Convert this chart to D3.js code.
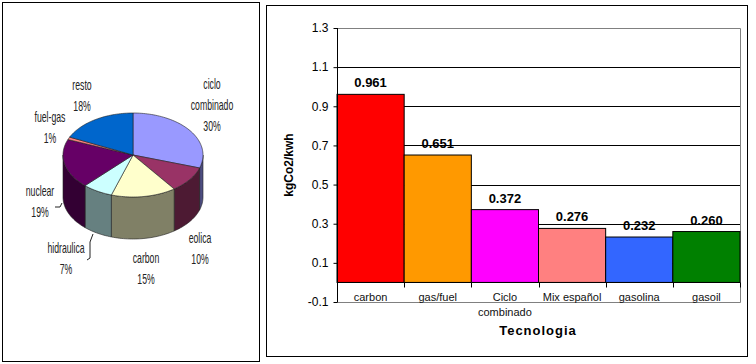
<!DOCTYPE html>
<html lang="es">
<head>
    <meta charset="UTF-8">
    <title>Emisiones kgCo2/kwh por tecnologia</title>
    <script src="https://d3js.org/d3.v7.min.js"></script>
    <style>
        body { margin: 0; background: #fff; }
        svg { display: block; font-family: "Liberation Sans", Arial, sans-serif; }
    </style>
</head>
<body>
<svg id="chart" width="756" height="364"></svg>
<script>
    // Pie data (mix de generacion)
    const pieNames = ["ciclo combinado", "eolica", "carbon", "hidraulica", "nuclear", "fuel-gas", "resto"];
    const pieValues = [30, 10, 15, 7, 19, 1, 18];
    const pieColors = ["#9999FF", "#993366", "#FFFFCC", "#CCFFFF", "#660066", "#FF8080", "#0066CC"];

    // Bar data (kgCo2/kwh)
    const barNames = ["carbon", "gas/fuel", "Ciclo combinado", "Mix español", "gasolina", "gasoil"];
    const barValues = [0.961, 0.651, 0.372, 0.276, 0.232, 0.260];
    const barColors = ["#FF0000", "#FF9900", "#FF00FF", "#FF8080", "#3366FF", "#008000"];
    const yTicks = [-0.1, 0.1, 0.3, 0.5, 0.7, 0.9, 1.1, 1.3];

    const svg = d3.select("#chart");

    // panel frames
    svg.append("rect").attr("x", 2.5).attr("y", 2.5).attr("width", 257).attr("height", 359)
        .attr("fill", "none").attr("stroke", "#000").attr("stroke-width", 1);
    svg.append("rect").attr("x", 266.5).attr("y", 5.5).attr("width", 481).attr("height", 351)
        .attr("fill", "none").attr("stroke", "#000").attr("stroke-width", 1);

    // ---------- 3D pie ----------
    const cx = 133, cy = 155, rx = 70, ry = 42, depth = 42;
    const pt = (a, dy = 0) => [cx + rx * Math.sin(a), cy - ry * Math.cos(a) + dy];
    const arcPts = (a0, a1, dy = 0) => {
        const n = Math.max(2, Math.ceil((a1 - a0) / 0.03));
        return d3.range(n + 1).map(i => pt(a0 + (a1 - a0) * i / n, dy));
    };
    const darker = c => { const k = d3.rgb(c); return d3.rgb(k.r * 0.5, k.g * 0.5, k.b * 0.5).toString(); };

    const slices = d3.pie().sort(null).value(d => d)(pieValues);
    const pieG = svg.append("g");
    const line = d3.line();

    // side walls (front half only)
    slices.forEach((s, i) => {
        const a0 = Math.max(s.startAngle, Math.PI / 2), a1 = Math.min(s.endAngle, 3 * Math.PI / 2);
        if (a1 <= a0) return;
        const pts = arcPts(a0, a1).concat(arcPts(a0, a1, depth).reverse());
        pieG.append("path").attr("d", line(pts) + "Z")
            .attr("fill", darker(pieColors[i])).attr("stroke", "#222").attr("stroke-width", 0.6);
    });
    // top faces
    slices.forEach((s, i) => {
        const pts = [[cx, cy]].concat(arcPts(s.startAngle, s.endAngle));
        pieG.append("path").attr("d", line(pts) + "Z")
            .attr("fill", pieColors[i]).attr("stroke", "#222").attr("stroke-width", 0.6);
    });

    // pie labels
    const labelPos = [[212, 84], [200, 238], [146, 258], [66, 248], [40, 191], [50, 117], [82, 85]];
    const labelLines = pieNames.map((n, i) => {
        const words = n === "ciclo combinado" ? ["ciclo", "combinado"] : [n];
        return words.concat([pieValues[i] + "%"]);
    });
    labelLines.forEach((ls, i) => {
        const [x, y] = labelPos[i];
        const g = svg.append("g").attr("transform", `translate(${x},${y}) scale(0.58,1)`);
        ls.forEach((t, j) => {
            g.append("text").attr("x", 0).attr("y", j * 21).attr("dy", "0.35em")
                .attr("text-anchor", "middle").attr("font-size", 15).attr("fill", "#222").text(t);
        });
    });
    // leader lines
    svg.append("path").attr("d", "M55,207L60,207L62,203").attr("fill", "none").attr("stroke", "#222");
    svg.append("path").attr("d", "M87,260L90,258L90,242L93,234").attr("fill", "none").attr("stroke", "#222");

    // ---------- bar chart ----------
    const x = d3.scaleBand().domain(barNames).range([337, 740]).padding(0);
    const y = d3.scaleLinear().domain([-0.1, 1.3]).range([302, 28]);

    // gridlines
    svg.append("g").selectAll("line").data(yTicks.filter(v => v > -0.1 && v < 1.3)).join("line")
        .attr("x1", 337).attr("x2", 740)
        .attr("y1", d => Math.round(y(d)) + 0.5).attr("y2", d => Math.round(y(d)) + 0.5)
        .attr("stroke", "#000");
    // plot border (top, right, bottom) in gray
    svg.append("path")
        .attr("d", `M337,${Math.round(y(1.3)) + 0.5}H740.5V${Math.round(y(-0.1)) + 0.5}H337`)
        .attr("fill", "none").attr("stroke", "#808080");

    // bars
    svg.append("g").selectAll("rect").data(barValues).join("rect")
        .attr("x", (d, i) => x(barNames[i]))
        .attr("width", x.bandwidth())
        .attr("y", d => y(d))
        .attr("height", d => y(0) - y(d))
        .attr("fill", (d, i) => barColors[i])
        .attr("stroke", "#000").attr("stroke-width", 1);

    // value labels
    svg.append("g").selectAll("text").data(barValues).join("text")
        .attr("x", (d, i) => x(barNames[i]) + x.bandwidth() / 2)
        .attr("y", d => y(d) - 7)
        .attr("text-anchor", "middle").attr("font-size", 13).attr("font-weight", "bold")
        .text(d => d.toFixed(3));

    // x axis at zero
    const xAxis = svg.append("g").attr("transform", `translate(0,${Math.round(y(0)) + 0.5})`);
    xAxis.append("line").attr("x1", 337).attr("x2", 740).attr("stroke", "#000");
    xAxis.selectAll(".tk").data(barNames.map(n => x(n)).slice(1).concat([740])).join("line")
        .attr("class", "tk")
        .attr("x1", d => Math.round(d) + 0.5).attr("x2", d => Math.round(d) + 0.5)
        .attr("y1", 0).attr("y2", 5).attr("stroke", "#000");
    // category labels
    barNames.forEach(n => {
        const parts = n === "Ciclo combinado" ? ["Ciclo", "combinado"] : [n];
        parts.forEach((p, j) => {
            svg.append("text").attr("x", x(n) + x.bandwidth() / 2).attr("y", 301 + j * 15)
                .attr("text-anchor", "middle").attr("font-size", 11).attr("fill", "#111").text(p);
        });
    });

    // y axis
    const yAxis = svg.append("g").attr("transform", "translate(337.5,0)")
        .call(d3.axisLeft(y).tickValues(yTicks).tickFormat(d3.format(".1f")).tickSize(4).tickPadding(5));
    yAxis.select(".domain").attr("stroke", "#000").attr("d", `M0,${y(1.3)}V${y(-0.1)}`);
    yAxis.selectAll("text").attr("font-size", 12).attr("font-family", "Liberation Sans, Arial, sans-serif")
        .text(d => d < 0 ? "-" + Math.abs(d).toFixed(1) : d.toFixed(1));

    // axis titles
    svg.append("text").attr("transform", `translate(289,${(y(1.3) + y(-0.1)) / 2}) rotate(-90)`)
        .attr("text-anchor", "middle").attr("dy", "0.35em").attr("font-size", 12).attr("font-weight", "bold")
        .text("kgCo2/kwh");
    svg.append("text").attr("x", 538).attr("y", 335).attr("text-anchor", "middle")
        .attr("font-size", 13).attr("font-weight", "bold").attr("letter-spacing", 1)
        .text("Tecnologia");
</script>
</body>
</html>
